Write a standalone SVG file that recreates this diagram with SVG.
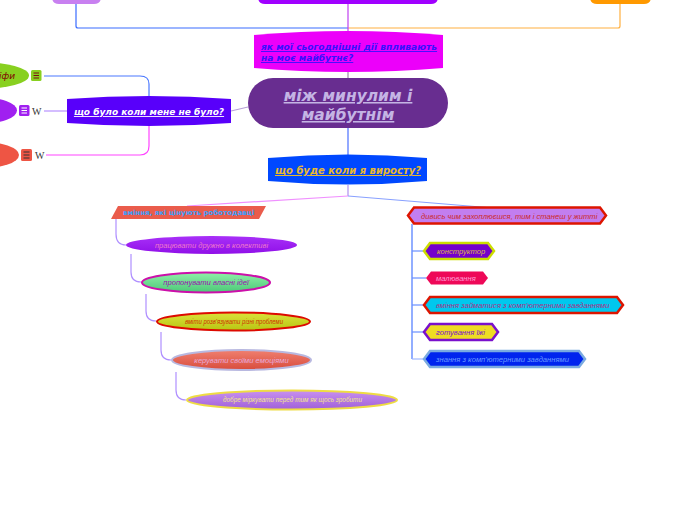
<svg xmlns="http://www.w3.org/2000/svg" width="697" height="520" viewBox="0 0 697 520">
<defs>
<linearGradient id="gGreen" x1="0" y1="0" x2="0" y2="1"><stop offset="0" stop-color="#8ff0a8"/><stop offset="1" stop-color="#4cc878"/></linearGradient>
<linearGradient id="gYel" x1="0" y1="0" x2="0" y2="1"><stop offset="0" stop-color="#dbe23a"/><stop offset="1" stop-color="#b8c512"/></linearGradient>
<linearGradient id="gRed" x1="0" y1="0" x2="0" y2="1"><stop offset="0" stop-color="#f08070"/><stop offset="1" stop-color="#d84c3c"/></linearGradient>
<linearGradient id="gLav" x1="0" y1="0" x2="0" y2="1"><stop offset="0" stop-color="#c890f0"/><stop offset="1" stop-color="#a060d8"/></linearGradient>
<linearGradient id="gPur" x1="0" y1="0" x2="0" y2="1"><stop offset="0" stop-color="#a830f8"/><stop offset="1" stop-color="#9010e8"/></linearGradient>
</defs>
<style>
text{font-family:"DejaVu Sans","Liberation Sans",sans-serif}
.c{fill:none;stroke-width:1.2}
.t{font-style:italic}
.b{font-weight:bold}
.u{text-decoration:underline}
.s{font-family:"Liberation Sans",Arial,sans-serif;font-style:italic;font-size:7.6px}
.w{font-family:"Liberation Serif","DejaVu Serif",serif;font-size:10px;fill:#333}
</style>

<g id="connectors">
<path class="c" d="M76,4 V26 Q76,28 78,28 H348" stroke="#3a6cff"/>
<path class="c" d="M620,4 V26 Q620,28 618,28 H348" stroke="#ffb040"/>
<path class="c" d="M348,4 V32" stroke="#c040f0"/>
<path class="c" d="M348,72 V78" stroke="#9a8aa8"/>
<path class="c" d="M348,128 V155" stroke="#4a70ff"/>
<path class="c" d="M231,111 L248,107" stroke="#b8a0d8"/>
<path class="c" d="M149,96 V84 Q149,76 140,76 H44" stroke="#4a78ff"/>
<path class="c" d="M67,111 H44" stroke="#b890ff"/>
<path class="c" d="M149,126 V146 Q149,155 140,155 H46" stroke="#ff44ff"/>
<path class="c" d="M348,185 V196" stroke="#b090f0"/>
<path class="c" d="M348,196 L187,206" stroke="#f090ff"/>
<path class="c" d="M348,196 L493,208" stroke="#88a0ff"/>
<path class="c" d="M116,219 V234 Q116,245 126,245" stroke="#b090ff"/>
<path class="c" d="M131,254 V272 Q131,282 141,282" stroke="#b090ff"/>
<path class="c" d="M146,294 V311 Q146,321 156,321" stroke="#b090ff"/>
<path class="c" d="M161,332 V350 Q161,360 171,360" stroke="#b090ff"/>
<path class="c" d="M176,372 V390 Q176,400 186,400" stroke="#b090ff"/>
<path class="c" d="M412,224 V359" stroke="#4a78ff"/>
<path class="c" d="M412,251 H423" stroke="#6a90ff"/>
<path class="c" d="M412,278 H426" stroke="#6a90ff"/>
<path class="c" d="M412,305 H423" stroke="#6a90ff"/>
<path class="c" d="M412,332 H423" stroke="#6a90ff"/>
<path class="c" d="M412,359 H423" stroke="#a0b8ff"/>
</g>

<g id="top-left"><path d="M52,-10 H101 V-3 Q101,4 94,4 H59 Q52,4 52,-3 Z" fill="#c880f0"/></g>
<g id="top-center"><path d="M258,-10 H438 V-3 Q438,4 431,4 H265 Q258,4 258,-3 Z" fill="#a000ff"/></g>
<g id="top-right"><path d="M590,-10 H651 V-3 Q651,4 644,4 H597 Q590,4 590,-3 Z" fill="#ff9900"/></g>

<g id="n-today">
<path d="M254,35 Q348,27 443,35 V68 Q348,76 254,68 Z" fill="#ec00fa"/>
<text class="t b u" font-size="9.1" fill="#3a10ff" x="261" y="50">як мої сьогоднішні дії впливають </text>
<text class="t b u" font-size="9.1" fill="#3a10ff" x="261" y="61">на моє майбутнє?</text>
</g>

<g id="n-center">
<rect x="248" y="78" width="200" height="50" rx="25" fill="#682d90"/>
<text class="t b u" font-size="15.5" fill="#c4b4e4" x="348" y="101" text-anchor="middle">між минулим і </text>
<text class="t b u" font-size="15.5" fill="#c4b4e4" x="348" y="120" text-anchor="middle">майбутнім</text>
</g>

<g id="n-future">
<path d="M268,158 Q348,151 427,158 V181 Q348,188 268,181 Z" fill="#0048ff"/>
<text class="t b u" font-size="10" fill="#e8b830" x="348" y="174" text-anchor="middle">що буде коли я виросту?</text>
</g>

<g id="n-past">
<path d="M67,99 Q149,93 231,99 V123 Q149,129 67,123 Z" fill="#5800fa"/>
<text class="t b u" font-size="9" fill="#ffffff" x="149" y="115" text-anchor="middle">що було коли мене не було?</text>
</g>

<g id="n-past-1">
<ellipse cx="-20" cy="75.5" rx="49" ry="13.5" fill="#88d020"/>
<text class="t" font-family="Liberation Serif,serif" font-size="9" fill="#800000" x="15" y="79" text-anchor="end">іфи</text>
<rect x="31" y="70" width="10.5" height="11" rx="1.5" fill="#88d020"/>
<path d="M33.5,73 H39 M33.5,75.5 H39 M33.5,78 H39" stroke="#7a1010" stroke-width="1"/>
</g>
<g id="n-past-2">
<ellipse cx="-20" cy="110.5" rx="37" ry="13.5" fill="#a020f0"/>
<rect x="19" y="105" width="10.5" height="11" rx="1.5" fill="#a020f0"/>
<path d="M21.5,108 H27 M21.5,110.5 H27 M21.5,113 H27" stroke="#ffffff" stroke-width="1"/>
<text class="w" x="32" y="115">W</text>
</g>
<g id="n-past-3">
<ellipse cx="-20" cy="155" rx="39" ry="13.5" fill="#ee5544"/>
<rect x="21" y="149" width="11" height="12" rx="1.5" fill="#ee5544"/>
<path d="M23.5,152 H29.5 M23.5,155 H29.5 M23.5,158 H29.5" stroke="#333333" stroke-width="1.2"/>
<text class="w" x="35" y="159">W</text>
</g>

<g id="n-skills">
<path d="M118,206 H266 L259,219 H111 Z" fill="#ea5c4c"/>
<text class="b" font-family="Liberation Sans,Arial,sans-serif" font-size="7" fill="#3aa0ff" x="123" y="215">вміння, які цінують роботодавці</text>
</g>
<g id="n-s1">
<ellipse cx="211.5" cy="245" rx="85.5" ry="9" fill="url(#gPur)"/>
<text class="s" font-size="7.8" fill="#ee77cc" x="211.5" y="247.5" text-anchor="middle">працювати дружно в колективі</text>
</g>
<g id="n-s2">
<ellipse cx="206" cy="282.5" rx="64" ry="10" fill="url(#gGreen)" stroke="#cc10aa" stroke-width="2"/>
<text class="s" font-size="7.3" fill="#9a10b0" x="206" y="285" text-anchor="middle">пропонувати власні ідеї</text>
</g>
<g id="n-s3">
<ellipse cx="233.5" cy="321.5" rx="76.5" ry="9" fill="url(#gYel)" stroke="#dd0a00" stroke-width="2"/>
<text class="s" font-size="6" fill="#cc3300" x="185" y="323.5" textLength="98" lengthAdjust="spacingAndGlyphs">вміти розв'язувати різні проблеми</text>
</g>
<g id="n-s4">
<ellipse cx="241.5" cy="360" rx="69.5" ry="10" fill="url(#gRed)" stroke="#b8b8e0" stroke-width="2"/>
<text class="s" font-size="7" fill="#e8a8d8" x="241.5" y="362.5" text-anchor="middle">керувати своїми емоціями</text>
</g>
<g id="n-s5">
<ellipse cx="292" cy="400" rx="105" ry="9.5" fill="url(#gLav)" stroke="#eedc44" stroke-width="2"/>
<text class="s" font-size="6.2" fill="#f2e488" x="223" y="402.2" textLength="139" lengthAdjust="spacingAndGlyphs">добре міркувати перед тим як щось зробити</text>
</g>

<g id="n-interest">
<path d="M408,215.5 L414,207.5 H600 L606,215.5 L600,223.5 H414 Z" fill="#c27ef0" stroke="#dd1500" stroke-width="2.5"/>
<text class="s" font-size="7.4" fill="#cc2a2a" x="421" y="218.5">дивись чим захоплюєшся, тим і станеш у житті</text>
</g>
<g id="n-i1">
<path d="M424,251 L430,243 H488 L494,251 L488,259 H430 Z" fill="#7400cc" stroke="#ccdd00" stroke-width="2.5"/>
<text class="s" font-size="7" fill="#dcb848" x="437" y="253.5">конструктор</text>
</g>
<g id="n-i2">
<path d="M426,278 L431,271.5 H483 L488,278 L483,284.5 H431 Z" fill="#ee0858"/>
<text class="s" fill="#ff9ad0" x="436" y="280.5">малювання</text>
</g>
<g id="n-i3">
<path d="M424,305 L430,297 H617 L623,305 L617,313 H430 Z" fill="#00c8ee" stroke="#dd1500" stroke-width="2.5"/>
<text class="s" fill="#aa3388" x="436" y="307.5">вміння займатися з комп'ютерними завданнями</text>
</g>
<g id="n-i4">
<path d="M424,332 L430,324 H492 L498,332 L492,340 H430 Z" fill="#eedc22" stroke="#7a10cc" stroke-width="2.5"/>
<text class="s" fill="#7a10cc" x="436" y="334.5">готування їжі</text>
</g>
<g id="n-i5">
<path d="M424,359 L430,351 H579 L585,359 L579,367 H430 Z" fill="#0024ee" stroke="#7aaae0" stroke-width="2.5"/>
<text class="s" fill="#6a9aff" x="436" y="361.5">знання з комп'ютерними завданнями</text>
</g>
</svg>
